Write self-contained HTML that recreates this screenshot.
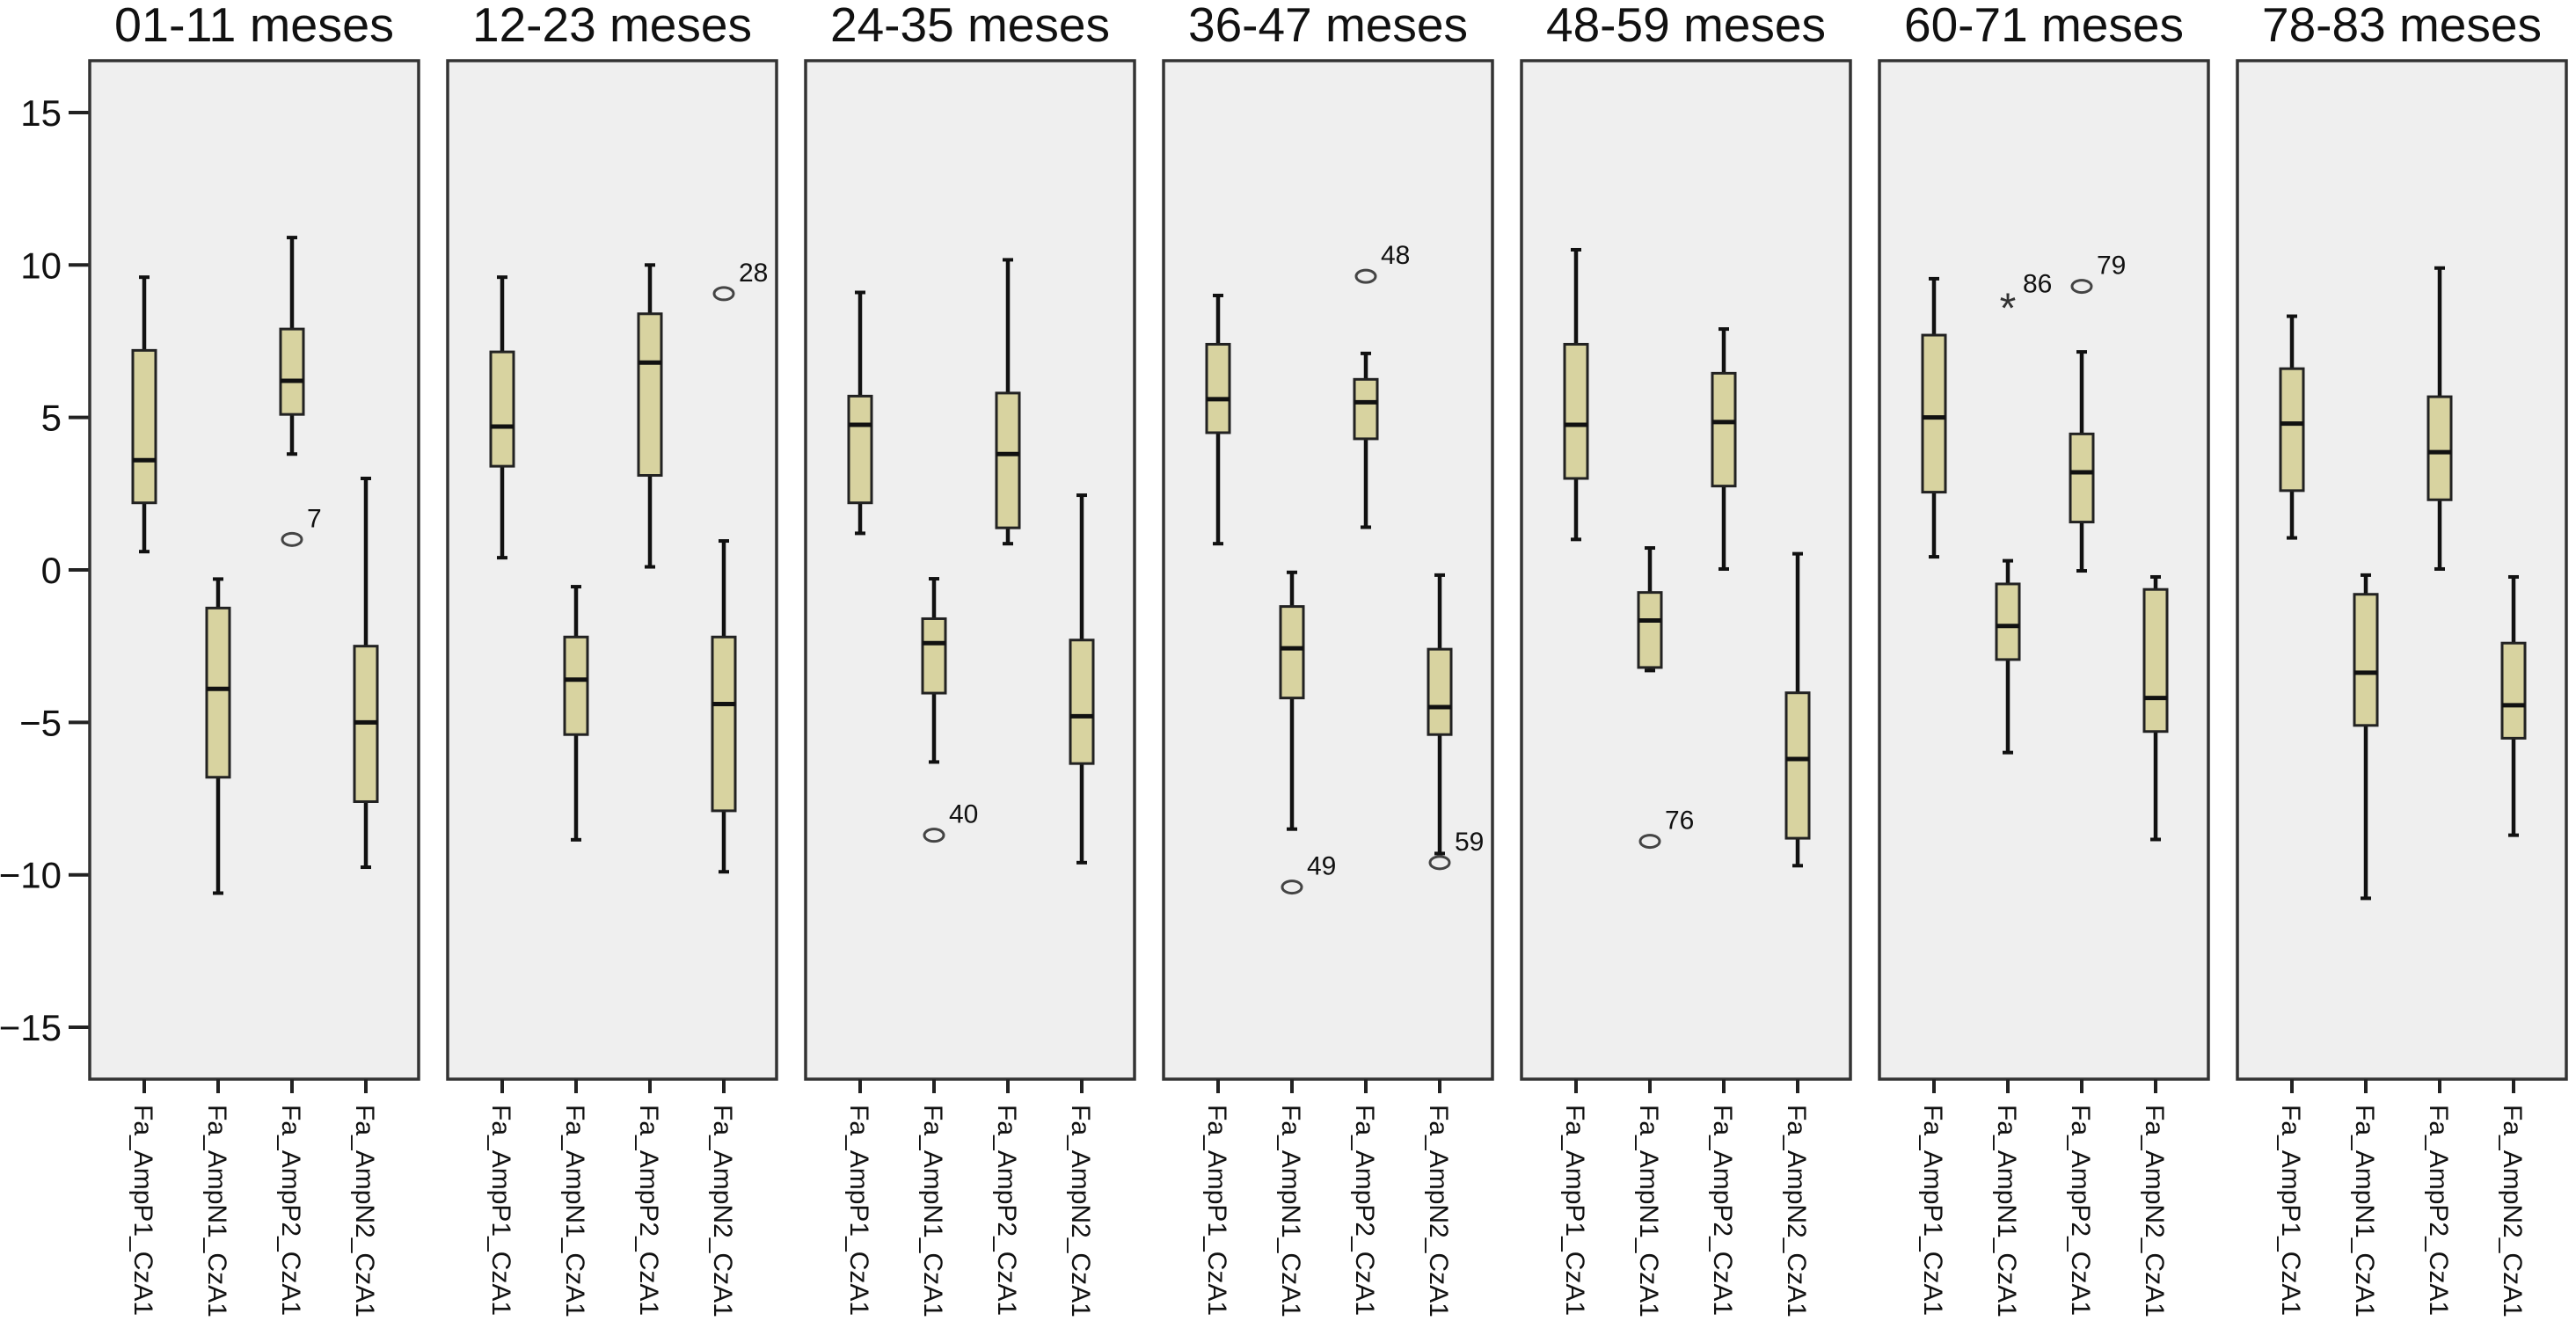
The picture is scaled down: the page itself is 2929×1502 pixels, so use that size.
<!DOCTYPE html>
<html><head><meta charset="utf-8"><style>
html,body{margin:0;padding:0;background:#fff;}
svg{display:block;font-family:"Liberation Sans",sans-serif;}
</style></head><body>
<svg id="chart" width="2929" height="1502" viewBox="0 0 2929 1502"></svg>
<script>
const panels = ["01-11 meses","12-23 meses","24-35 meses","36-47 meses","48-59 meses","60-71 meses","78-83 meses"];
const variables = ["Fa_AmpP1_CzA1","Fa_AmpN1_CzA1","Fa_AmpP2_CzA1","Fa_AmpN2_CzA1"];
const yTicks = [15,10,5,0,-5,-10,-15];
// each: [whiskerLow, q1, median, q3, whiskerHigh] per variable
const stats01 = [[0.6,2.2,3.6,7.2,9.6],[-10.6,-6.8,-3.9,-1.25,-0.3],[3.8,5.1,6.2,7.9,10.9],[-9.75,-7.6,-5.0,-2.5,3.0]];
const stats12 = [[0.4,3.4,4.7,7.15,9.6],[-8.85,-5.4,-3.6,-2.2,-0.55],[0.1,3.1,6.8,8.4,10.0],[-9.9,-7.9,-4.4,-2.2,0.95]];
const stats24 = [[1.2,2.2,4.76,5.7,9.1],[-6.3,-4.04,-2.4,-1.6,-0.29],[0.86,1.38,3.8,5.8,10.17],[-9.6,-6.35,-4.8,-2.3,2.45]];
const stats36 = [[0.86,4.5,5.6,7.4,9.0],[-8.5,-4.2,-2.57,-1.2,-0.08],[1.4,4.3,5.5,6.25,7.1],[-9.3,-5.4,-4.5,-2.6,-0.17]];
const stats48 = [[1.0,3.0,4.76,7.4,10.5],[-3.3,-3.2,-1.66,-0.74,0.72],[0.03,2.75,4.85,6.45,7.9],[-9.7,-8.8,-6.2,-4.03,0.53]];
const stats60 = [[0.43,2.55,5.0,7.7,9.55],[-5.99,-2.94,-1.84,-0.46,0.3],[-0.03,1.57,3.2,4.46,7.15],[-8.84,-5.3,-4.2,-0.64,-0.23]];
const stats78 = [[1.05,2.6,4.8,6.6,8.32],[-10.77,-5.1,-3.37,-0.8,-0.17],[0.03,2.3,3.86,5.68,9.9],[-8.7,-5.52,-4.44,-2.4,-0.23]];
const allStats = [stats01,stats12,stats24,stats36,stats48,stats60,stats78];
const outlierPanel = [0,1,2,3,3,3,4,5,5];
const outlierVar = [2,3,1,1,2,3,1,1,2];
const outlierValue = [1.0,9.06,-8.7,-10.4,9.63,-9.6,-8.9,8.7,9.3];
const outlierLabel = ["7","28","40","49","48","59","76","86","79"];
const outlierStar = [false,false,false,false,false,false,false,true,false];

const NS="http://www.w3.org/2000/svg";
const svg=document.getElementById('chart');
const plotTop=69, plotBot=1227, panelW=374, panelPitch=407, panel0=102;
function yScale(v){return 648 - v*34.67;}
function panelX(i){return panel0 + i*panelPitch;}
function varX(i,j){return panelX(i) + 62 + j*84;}
function mk(tag,attrs,parent){const e=document.createElementNS(NS,tag);for(const k in attrs)e.setAttribute(k,attrs[k]);(parent||svg).appendChild(e);return e;}

yTicks.forEach(t=>{
  const y=yScale(t);
  const tk=mk('line',{x1:78,x2:102,y1:y,y2:y,stroke:'#222','stroke-width':4});
  
  
  const lb=mk('text',{x:70,y:y+15,'text-anchor':'end','font-size':42,fill:'#111'});
  lb.textContent = t<0 ? '\u2212'+Math.abs(t) : String(t);
  
  
});

panels.forEach((name,i)=>{
  const px=panelX(i);
  const g=mk('g',{});
  
  
  const bg=mk('rect',{x:px,y:plotTop,width:panelW,height:plotBot-plotTop,fill:'#efefef',stroke:'#333','stroke-width':3.5},g);
  
  
  const tt=mk('text',{x:px+panelW/2,y:47,'text-anchor':'middle','font-size':55,fill:'#111',textLength:318,lengthAdjust:'spacingAndGlyphs'},g);
  tt.textContent=name;
  
  
  variables.forEach((v,j)=>{
    const x=varX(i,j);
    const s=allStats[i][j];
    const tk=mk('line',{x1:x,x2:x,y1:plotBot,y2:plotBot+16,stroke:'#222','stroke-width':4},g);
    
    
    const lb=mk('text',{x:0,y:0,'font-size':30,fill:'#111',transform:`translate(${x-11},1256) rotate(90)`},g);
    lb.textContent=v;
    
    
    const bx=mk('g',{},g);
    
    
    const wh=mk('line',{x1:x,x2:x,y1:yScale(s[0]),y2:yScale(s[4]),stroke:'#111','stroke-width':4.5},bx);
    
    
    [s[0],s[4]].forEach(c=>{
      const cap=mk('line',{x1:x-6,x2:x+6,y1:yScale(c),y2:yScale(c),stroke:'#111','stroke-width':4},bx);
      
      
    });
    const r=mk('rect',{x:x-13,y:yScale(s[3]),width:26,height:yScale(s[1])-yScale(s[3]),fill:'#d8d3a0',stroke:'#222','stroke-width':3},bx);
    
    
    const md=mk('line',{x1:x-13,x2:x+13,y1:yScale(s[2]),y2:yScale(s[2]),stroke:'#111','stroke-width':5},bx);
    
    
  });
});

outlierValue.forEach((v,k)=>{
  const x=varX(outlierPanel[k],outlierVar[k]);
  const y=yScale(v);
  let m;
  if(outlierStar[k]){
    m=mk('text',{x:x,y:y+20,'text-anchor':'middle','font-size':48,fill:'#333'});
    m.textContent='*';
  } else {
    m=mk('ellipse',{cx:x,cy:y,rx:11,ry:7,fill:'none',stroke:'#444','stroke-width':3});
  }
  
  
  const t=mk('text',{x:x+17,y:y-14,'font-size':30,fill:'#111'});
  t.textContent=outlierLabel[k];
  
  
});
</script>
</body></html>
